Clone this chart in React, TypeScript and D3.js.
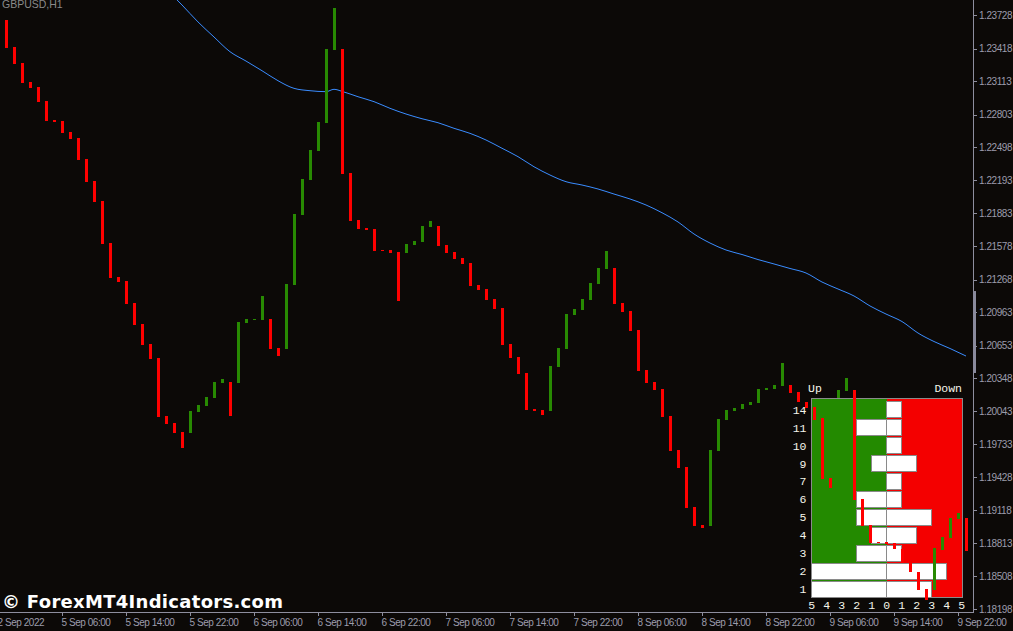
import React from "react";
import * as d3 from "d3";

const W = 1013;
const H = 631;

const symbolTitle = "GBPUSD,H1";
const watermark = "© ForexMT4Indicators.com";

const priceTicks = [
  1.23728, 1.23418, 1.23113, 1.22803, 1.22498, 1.22193, 1.21883, 1.21578, 1.21268, 1.20963,
  1.20653, 1.20348, 1.20043, 1.19733, 1.19428, 1.19118, 1.18813, 1.18508, 1.18198,
];

const timeLabels = [
  "2 Sep 2022", "5 Sep 06:00", "5 Sep 14:00", "5 Sep 22:00", "6 Sep 06:00", "6 Sep 14:00",
  "6 Sep 22:00", "7 Sep 06:00", "7 Sep 14:00", "7 Sep 22:00", "8 Sep 06:00", "8 Sep 14:00",
  "8 Sep 22:00", "9 Sep 06:00", "9 Sep 14:00", "9 Sep 22:00",
];
const timeLabelBars = [-1, 7, 15, 23, 31, 39, 47, 55, 63, 71, 79, 87, 95, 103, 111, 119];

// hourly bodies (open / close)
const opens = [
  1.23684, 1.23433, 1.23284, 1.23107, 1.23060, 1.22930, 1.22753, 1.22744, 1.22641, 1.22586,
  1.22390, 1.22185, 1.21999, 1.21608, 1.21292, 1.21254, 1.21049, 1.20854, 1.20668, 1.20537,
  1.19997, 1.19932, 1.19848, 1.19839, 1.20035, 1.20091, 1.20165, 1.20305, 1.20314, 1.20305,
  1.20863, 1.20892, 1.20891, 1.20901, 1.20631, 1.20621, 1.21217, 1.21869, 1.22195, 1.22465,
  1.22725, 1.23405, 1.23414, 1.22260, 1.21822, 1.21748, 1.21738, 1.21543, 1.21543, 1.21524,
  1.21515, 1.21589, 1.21617, 1.21757, 1.21766, 1.21589, 1.21524, 1.21468, 1.21422, 1.21217,
  1.21180, 1.21087, 1.21003, 1.20668, 1.20547, 1.20398, 1.20063, 1.20053, 1.20044, 1.20454,
  1.20621, 1.20938, 1.20984, 1.21077, 1.21226, 1.21366, 1.21375, 1.21049, 1.20975, 1.20798,
  1.20426, 1.20314, 1.20249, 1.19997, 1.19681, 1.19523, 1.19150, 1.18983, 1.18973, 1.19672,
  1.19960, 1.20044, 1.20063, 1.20100, 1.20118, 1.20240, 1.20249, 1.20277, 1.20286, 1.20221,
  1.20128, 1.20081, 1.19979, 1.19420, 1.20165, 1.20230, 1.20240, 1.19225, 1.18983, 1.18824,
  1.18824, 1.18815, 1.18759, 1.18629, 1.18545, 1.18387, 1.18378, 1.18750, 1.18862, 1.19039,
  1.19048,
];
const closes = [
  1.23424, 1.23275, 1.23098, 1.23051, 1.22921, 1.22744, 1.22735, 1.22632, 1.22576, 1.22381,
  1.22176, 1.21990, 1.21599, 1.21282, 1.21245, 1.21040, 1.20845, 1.20658, 1.20528, 1.19988,
  1.19923, 1.19839, 1.19700, 1.20044, 1.20100, 1.20174, 1.20314, 1.20342, 1.19997, 1.20873,
  1.20901, 1.20901, 1.21115, 1.20621, 1.20556, 1.21226, 1.21878, 1.22204, 1.22474, 1.22735,
  1.23414, 1.23796, 1.22250, 1.21813, 1.21738, 1.21729, 1.21534, 1.21534, 1.21515, 1.21068,
  1.21599, 1.21627, 1.21766, 1.21813, 1.21580, 1.21515, 1.21459, 1.21413, 1.21208, 1.21171,
  1.21077, 1.20994, 1.20658, 1.20537, 1.20388, 1.20053, 1.20044, 1.20007, 1.20463, 1.20631,
  1.20947, 1.20994, 1.21087, 1.21236, 1.21375, 1.21534, 1.21040, 1.20966, 1.20789, 1.20416,
  1.20305, 1.20240, 1.19988, 1.19672, 1.19513, 1.19141, 1.18973, 1.18955, 1.19681, 1.19970,
  1.20053, 1.20072, 1.20109, 1.20128, 1.20249, 1.20258, 1.20286, 1.20491, 1.20212, 1.20128,
  1.20072, 1.19960, 1.19411, 1.19327, 1.20240, 1.20351, 1.19215, 1.18973, 1.18815, 1.18815,
  1.18806, 1.18759, 1.18629, 1.18545, 1.18378, 1.18284, 1.18769, 1.18871, 1.19048, 1.19094,
  1.18741,
];

// moving average samples (bar index -> value)
const maBars = [
  20, 22, 24, 26, 28, 30, 32, 34, 36, 38, 40, 41, 42, 44, 46, 48, 50, 52, 54, 56, 58, 60, 62, 64,
  66, 68, 70, 72, 74, 76, 78, 80, 82, 84, 86, 88, 90, 92, 94, 96, 98, 100, 102, 104, 106, 108,
  110, 112, 114, 116, 118, 120,
];
const maValues = [
  1.23973, 1.23824, 1.23666, 1.23526, 1.23389, 1.23302, 1.23212, 1.23119, 1.23048, 1.23026,
  1.23017, 1.23039, 1.23020, 1.22970, 1.22924, 1.22862, 1.22809, 1.22765, 1.22728, 1.22676,
  1.22629, 1.22567, 1.22490, 1.22412, 1.22318, 1.22241, 1.22179, 1.22148, 1.22111, 1.22064,
  1.22018, 1.21962, 1.21890, 1.21804, 1.21692, 1.21608, 1.21543, 1.21501, 1.21454, 1.21413,
  1.21371, 1.21329, 1.21245, 1.21180, 1.21115, 1.21022, 1.20947, 1.20877, 1.20770, 1.20691,
  1.20626, 1.20556,
];

// price-axis scroll marker range
const markerRange = [1.21161, 1.20398];

// Up / Down histogram panel
const panelRows = ["14", "11", "10", "9", "7", "6", "5", "4", "3", "2", "1"];
const upCounts = [0, 2, 0, 1, 0, 2, 2, 1, 2, 5, 5];
const downCounts = [1, 1, 1, 2, 1, 1, 3, 2, 1, 4, 3];
const countTicks = [-5, -4, -3, -2, -1, 0, 1, 2, 3, 4, 5];

const BG = "#0c0907";
const AXIS = "#8e8e9e";
const AXIS_TEXT = "#9c9cac";
const RED = "#ff0000";
const GREEN = "#288a02";

export default function App() {
  const x = d3.scaleLinear().domain([0, 120]).range([6, 966]);
  const y = d3.scaleLinear().domain([1.18198, 1.23728]).range([609.3, 15.3]);

  const plotRight = 973;
  const plotBottom = 612;

  const ma = d3
    .line<number>()
    .x((_, i) => x(maBars[i]))
    .y((v) => y(v))
    .curve(d3.curveMonotoneX)(maValues);

  const px = d3.scaleLinear().domain([-5, 5]).range([811.7, 961.7]);
  const rowY = d3
    .scaleBand<string>()
    .domain(panelRows)
    .range([400.7, 598.2])
    .paddingInner(0.11)
    .paddingOuter(0.055);

  const monoFont = "'Liberation Mono', 'DejaVu Sans Mono', monospace";
  const axisFont = "'Liberation Sans', Arial, sans-serif";

  return (
    <svg
      width={W}
      height={H}
      viewBox={`0 0 ${W} ${H}`}
      style={{ position: "absolute", left: 0, top: 0, display: "block" }}
    >
      <defs>
        <clipPath id="plot">
          <rect x={0} y={0} width={plotRight} height={plotBottom} />
        </clipPath>
      </defs>
      <rect x={0} y={0} width={W} height={H} fill={BG} />

      {/* histogram panel (behind candles) */}
      <g shapeRendering="crispEdges">
        <rect x={px(-5)} y={398.5} width={px(0) - px(-5)} height={199} fill="#238a00" />
        <rect x={px(0)} y={398.5} width={px(5) - px(0)} height={199} fill="#f40000" />
        <rect x={px(-5) - 0.5} y={398.5} width={px(5) - px(-5) + 1} height={199} fill="none" stroke="#8a8a8a" />
        {panelRows.map((r, i) => (
          <g key={r}>
            {upCounts[i] > 0 && (
              <rect
                x={px(-upCounts[i])}
                y={rowY(r)}
                width={px(0) - px(-upCounts[i])}
                height={rowY.bandwidth()}
                fill="#ffffff"
                stroke="#8a8a8a"
              />
            )}
            <rect
              x={px(0)}
              y={rowY(r)}
              width={px(downCounts[i]) - px(0)}
              height={rowY.bandwidth()}
              fill="#ffffff"
              stroke="#8a8a8a"
            />
          </g>
        ))}
      </g>
      <g fontFamily={monoFont} fontSize={11.5} fill="#f4f4ea">
        <text x={808} y={392}>Up</text>
        <text x={962} y={392} textAnchor="end">Down</text>
        {panelRows.map((r) => (
          <text key={r} x={806.5} y={(rowY(r) as number) + rowY.bandwidth() / 2 + 4} textAnchor="end">
            {r}
          </text>
        ))}
        {countTicks.map((v, i) => (
          <text key={i} x={px(v)} y={609} textAnchor="middle">
            {Math.abs(v)}
          </text>
        ))}
      </g>

      <g clipPath="url(#plot)">
        <path d={ma ?? ""} fill="none" stroke="#3a8cff" strokeWidth={1} />
        <g shapeRendering="crispEdges">
          {opens.map((o, i) => {
            const c = closes[i];
            const y0 = Math.round(y(Math.max(o, c)));
            const y1 = Math.round(y(Math.min(o, c)));
            return (
              <rect
                key={i}
                x={Math.round(x(i)) - 1}
                y={y0}
                width={3}
                height={Math.max(1, y1 - y0)}
                fill={c >= o ? GREEN : RED}
              />
            );
          })}
        </g>
      </g>

      {/* title */}
      <text x={2} y={8} fontFamily={axisFont} fontSize={10.5} fill="#8a8a8a">
        {symbolTitle}
      </text>

      {/* axes */}
      <g shapeRendering="crispEdges" stroke={AXIS}>
        <line x1={plotRight + 0.5} x2={plotRight + 0.5} y1={0} y2={plotBottom} />
        <line x1={0} x2={plotRight + 0.5} y1={plotBottom + 0.5} y2={plotBottom + 0.5} />
        {priceTicks.map((t) => (
          <line key={t} x1={plotRight} x2={plotRight + 4} y1={Math.round(y(t)) + 0.5} y2={Math.round(y(t)) + 0.5} />
        ))}
        {timeLabelBars.map((b) => (
          <line key={b} x1={Math.round(x(b)) + 0.5} x2={Math.round(x(b)) + 0.5} y1={plotBottom} y2={plotBottom + 4} />
        ))}
      </g>
      <rect
        x={plotRight}
        y={y(markerRange[0])}
        width={3}
        height={y(markerRange[1]) - y(markerRange[0])}
        fill="#8a8a9c"
      />
      <g fontFamily={axisFont} fontSize={10} fill={AXIS_TEXT} letterSpacing={-0.45}>
        {priceTicks.map((t) => (
          <text key={t} x={979} y={y(t) + 3.5}>
            {t.toFixed(5)}
          </text>
        ))}
        {timeLabels.map((l, i) => (
          <text key={l} x={x(timeLabelBars[i]) - 0.5} y={625.5}>
            {l}
          </text>
        ))}
      </g>

      {/* watermark */}
      <text
        x={2}
        y={607.5}
        fontFamily="'DejaVu Sans', Verdana, sans-serif"
        fontWeight="bold"
        fontSize={18}
        fill="#ffffff"
        textLength={281}
        lengthAdjust="spacing"
      >
        {watermark}
      </text>
    </svg>
  );
}
